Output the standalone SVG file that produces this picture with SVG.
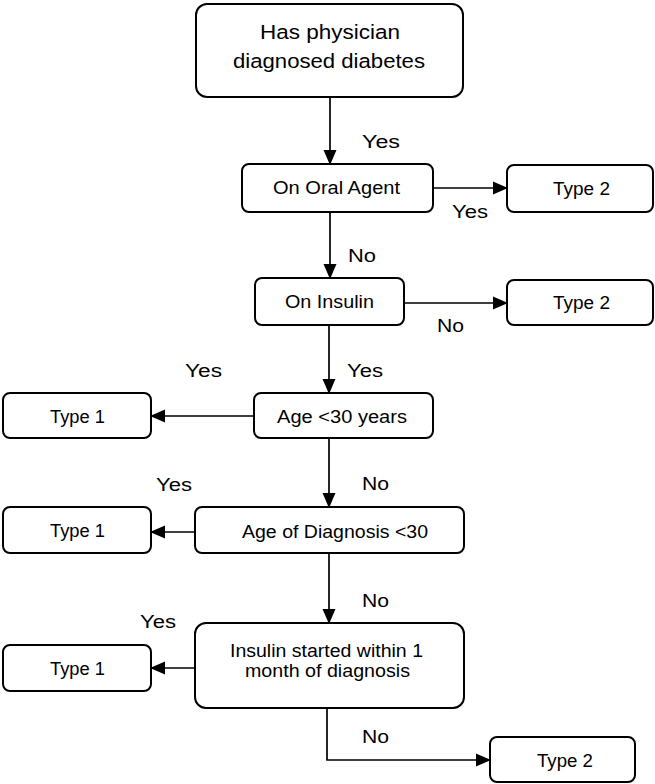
<svg xmlns="http://www.w3.org/2000/svg" width="655" height="784" viewBox="0 0 655 784">
  <style>
    .box { fill: #ffffff; stroke: #000000; stroke-width: 2; }
    .lbl { font-family: "Liberation Sans", Arial, sans-serif; font-size: 17.5px; fill: #000000; }
    .big { font-family: "Liberation Sans", Arial, sans-serif; font-size: 20.5px; fill: #000000; }
    .wire { fill: none; stroke: #000000; stroke-width: 1.7; marker-end: url(#arrow); }
  </style>
  <defs>
    <marker id="arrow" markerUnits="userSpaceOnUse" markerWidth="15" markerHeight="14" refX="14" refY="7" orient="auto">
      <path d="M0,0.5 L15,7 L0,13.5 Z" fill="#000000"/>
    </marker>
  </defs>
  <rect width="655" height="784" fill="#ffffff"/>

  <!-- connectors -->
  <g id="connectors">
    <path class="wire" d="M330,97 L330,164"/>
    <path class="wire" d="M433,188 L507,188"/>
    <path class="wire" d="M330,212 L330,278"/>
    <path class="wire" d="M404,303 L507,303"/>
    <path class="wire" d="M329,325 L329,393"/>
    <path class="wire" d="M254,416 L151,416"/>
    <path class="wire" d="M329,438 L329,507"/>
    <path class="wire" d="M195,532 L151,532"/>
    <path class="wire" d="M329,553 L329,623"/>
    <path class="wire" d="M195,668 L151,668"/>
    <path class="wire" d="M327,708 L327,760 L490,760"/>
  </g>

  <!-- edge labels -->
  <g id="edge-labels" class="lbl">
    <text x="362" y="148" textLength="38" lengthAdjust="spacingAndGlyphs">Yes</text>
    <text x="452" y="218" textLength="36" lengthAdjust="spacingAndGlyphs">Yes</text>
    <text x="348" y="262" textLength="28" lengthAdjust="spacingAndGlyphs">No</text>
    <text x="437" y="332" textLength="27" lengthAdjust="spacingAndGlyphs">No</text>
    <text x="185" y="377" textLength="37" lengthAdjust="spacingAndGlyphs">Yes</text>
    <text x="347" y="377" textLength="36" lengthAdjust="spacingAndGlyphs">Yes</text>
    <text x="156" y="491" textLength="36" lengthAdjust="spacingAndGlyphs">Yes</text>
    <text x="362" y="490" textLength="27" lengthAdjust="spacingAndGlyphs">No</text>
    <text x="362" y="607" textLength="27" lengthAdjust="spacingAndGlyphs">No</text>
    <text x="140" y="628" textLength="36" lengthAdjust="spacingAndGlyphs">Yes</text>
    <text x="362" y="743" textLength="27" lengthAdjust="spacingAndGlyphs">No</text>
  </g>

  <!-- nodes -->
  <g id="diagnosed">
    <rect class="box" x="196" y="4" width="267" height="93" rx="11"/>
    <text class="big" x="260" y="39" textLength="140" lengthAdjust="spacingAndGlyphs">Has physician</text>
    <text class="big" x="233" y="68" textLength="192" lengthAdjust="spacingAndGlyphs">diagnosed diabetes</text>
  </g>
  <g id="oral-agent">
    <rect class="box" x="242" y="164" width="191" height="48" rx="7"/>
    <text class="lbl" x="273" y="194" textLength="127" lengthAdjust="spacingAndGlyphs">On Oral Agent</text>
  </g>
  <g id="type2-a">
    <rect class="box" x="507" y="165" width="146" height="47" rx="7"/>
    <text class="lbl" x="553" y="195" textLength="57" lengthAdjust="spacingAndGlyphs">Type 2</text>
  </g>
  <g id="on-insulin">
    <rect class="box" x="255" y="278" width="149" height="47" rx="7"/>
    <text class="lbl" x="285" y="308" textLength="89" lengthAdjust="spacingAndGlyphs">On Insulin</text>
  </g>
  <g id="type2-b">
    <rect class="box" x="507" y="280" width="146" height="45" rx="7"/>
    <text class="lbl" x="553" y="309" textLength="57" lengthAdjust="spacingAndGlyphs">Type 2</text>
  </g>
  <g id="age-under-30">
    <rect class="box" x="254" y="393" width="179" height="45" rx="7"/>
    <text class="lbl" x="277" y="423" textLength="130" lengthAdjust="spacingAndGlyphs">Age &lt;30 years</text>
  </g>
  <g id="type1-a">
    <rect class="box" x="3" y="393" width="148" height="45" rx="7"/>
    <text class="lbl" x="50" y="423" textLength="55" lengthAdjust="spacingAndGlyphs">Type 1</text>
  </g>
  <g id="diagnosis-age">
    <rect class="box" x="195" y="507" width="269" height="46" rx="7"/>
    <text class="lbl" x="242" y="538" textLength="186" lengthAdjust="spacingAndGlyphs">Age of Diagnosis &lt;30</text>
  </g>
  <g id="type1-b">
    <rect class="box" x="3" y="507" width="148" height="46" rx="7"/>
    <text class="lbl" x="50" y="537" textLength="55" lengthAdjust="spacingAndGlyphs">Type 1</text>
  </g>
  <g id="insulin-start">
    <rect class="box" x="195" y="623" width="269" height="85" rx="11"/>
    <text class="lbl" x="230" y="657" textLength="193" lengthAdjust="spacingAndGlyphs">Insulin started within 1</text>
    <text class="lbl" x="245" y="677" textLength="165" lengthAdjust="spacingAndGlyphs">month of diagnosis</text>
  </g>
  <g id="type1-c">
    <rect class="box" x="3" y="645" width="148" height="46" rx="7"/>
    <text class="lbl" x="50" y="675" textLength="55" lengthAdjust="spacingAndGlyphs">Type 1</text>
  </g>
  <g id="type2-c">
    <rect class="box" x="490" y="737" width="145" height="45" rx="7"/>
    <text class="lbl" x="537" y="767" textLength="56" lengthAdjust="spacingAndGlyphs">Type 2</text>
  </g>
</svg>
